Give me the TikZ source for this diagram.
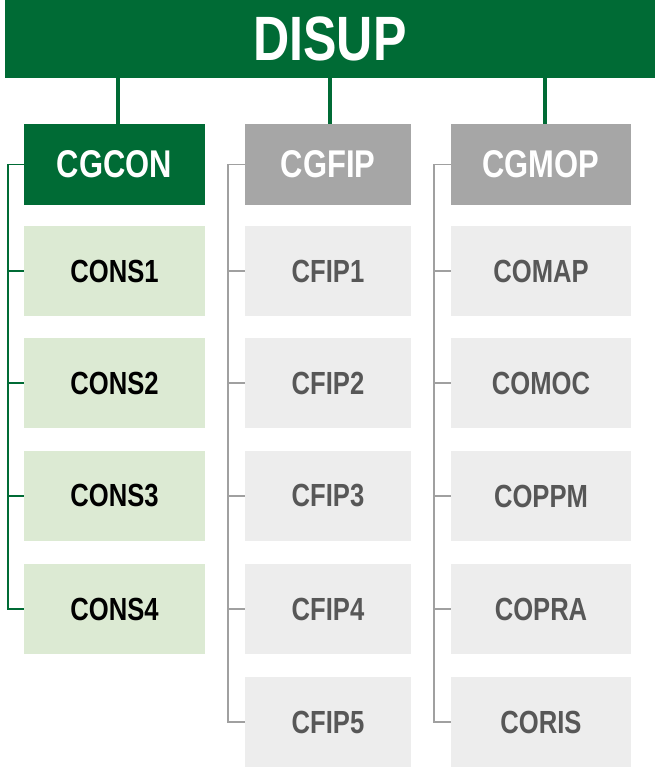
\documentclass[tikz,border=0pt]{standalone}
\usepackage{fontspec}
\newfontfamily\orgfont{Liberation Sans}[FakeStretch=0.8]
\usetikzlibrary{positioning}
\definecolor{dgreen}{HTML}{006B35}
\definecolor{lgreen}{HTML}{DCEAD3}
\definecolor{mgrey}{HTML}{A6A6A6}
\definecolor{lgrey}{HTML}{EDEDED}
\definecolor{tgrey}{HTML}{575757}
\definecolor{lline}{HTML}{A0A0A0}

\begin{document}
\begin{tikzpicture}[x=0.75pt, y=-0.75pt,
    topbox/.style={fill=dgreen, text=white, minimum width=487.5pt, minimum height=58.5pt, inner sep=0pt,
        font=\orgfont\bfseries\fontsize{47}{47}\selectfont},
    headbox/.style={fill=#1, text=white, minimum height=60.75pt, inner sep=0pt,
        font=\orgfont\bfseries\fontsize{29}{29}\selectfont},
    subbox/.style={fill=#1, minimum height=67.5pt, inner sep=0pt,
        font=\orgfont\bfseries\fontsize{24}{24}\selectfont},
    greenlink/.style={dgreen, line width=1.2pt},
    greylink/.style={lline, line width=1.2pt},
    trunk/.style={dgreen, line width=3.6pt}]
    \useasboundingbox (0,0) rectangle (660,782);

    % Top
    \node[topbox] (disup) at (330,39) {DISUP};

    % Group heads
    \node[headbox=dgreen, minimum width=135.75pt] (cgcon) at (114.5,164.5) {CGCON};
    \node[headbox=mgrey, minimum width=124.5pt] (cgfip) at (328,164.5) {CGFIP};
    \node[headbox=mgrey, minimum width=135pt] (cgmop) at (541,164.5) {CGMOP};

    % Trunks
    \draw[trunk] (disup.south -| 118,0) -- (cgcon.north -| 118,0);
    \draw[trunk] (disup.south -| 330,0) -- (cgfip.north -| 330,0);
    \draw[trunk] (disup.south -| 545,0) -- (cgmop.north -| 545,0);

    % CGCON column
    \node[subbox=lgreen, minimum width=135.75pt, text=black] (cons1) at (114.5,271) {CONS1};
    \node[subbox=lgreen, minimum width=135.75pt, text=black] (cons2) at (114.5,383) {CONS2};
    \node[subbox=lgreen, minimum width=135.75pt, text=black] (cons3) at (114.5,496) {CONS3};
    \node[subbox=lgreen, minimum width=135.75pt, text=black] (cons4) at (114.5,609) {CONS4};

    % CGFIP column
    \node[subbox=lgrey, minimum width=124.5pt, text=tgrey] (cfip1) at (328,271) {CFIP1};
    \node[subbox=lgrey, minimum width=124.5pt, text=tgrey] (cfip2) at (328,383) {CFIP2};
    \node[subbox=lgrey, minimum width=124.5pt, text=tgrey] (cfip3) at (328,496) {CFIP3};
    \node[subbox=lgrey, minimum width=124.5pt, text=tgrey] (cfip4) at (328,609) {CFIP4};
    \node[subbox=lgrey, minimum width=124.5pt, text=tgrey] (cfip5) at (328,722) {CFIP5};

    % CGMOP column
    \node[subbox=lgrey, minimum width=135pt, text=tgrey] (comap) at (541,271) {COMAP};
    \node[subbox=lgrey, minimum width=135pt, text=tgrey] (comoc) at (541,383) {COMOC};
    \node[subbox=lgrey, minimum width=135pt, text=tgrey] (coppm) at (541,496) {COPPM};
    \node[subbox=lgrey, minimum width=135pt, text=tgrey] (copra) at (541,609) {COPRA};
    \node[subbox=lgrey, minimum width=135pt, text=tgrey] (coris) at (541,722) {CORIS};

    % Brackets
    \draw[greenlink] (cgcon.west) -- ++(-16,0) |- (cons4.west);
    \foreach \n in {cons1,cons2,cons3}
        \draw[greenlink] (\n.west) -- ++(-16,0);
    \draw[greylink] (cgfip.west) -- ++(-17,0) |- (cfip5.west);
    \foreach \n in {cfip1,cfip2,cfip3,cfip4}
        \draw[greylink] (\n.west) -- ++(-17,0);
    \draw[greylink] (cgmop.west) -- ++(-17,0) |- (coris.west);
    \foreach \n in {comap,comoc,coppm,copra}
        \draw[greylink] (\n.west) -- ++(-17,0);
\end{tikzpicture}
\end{document}
